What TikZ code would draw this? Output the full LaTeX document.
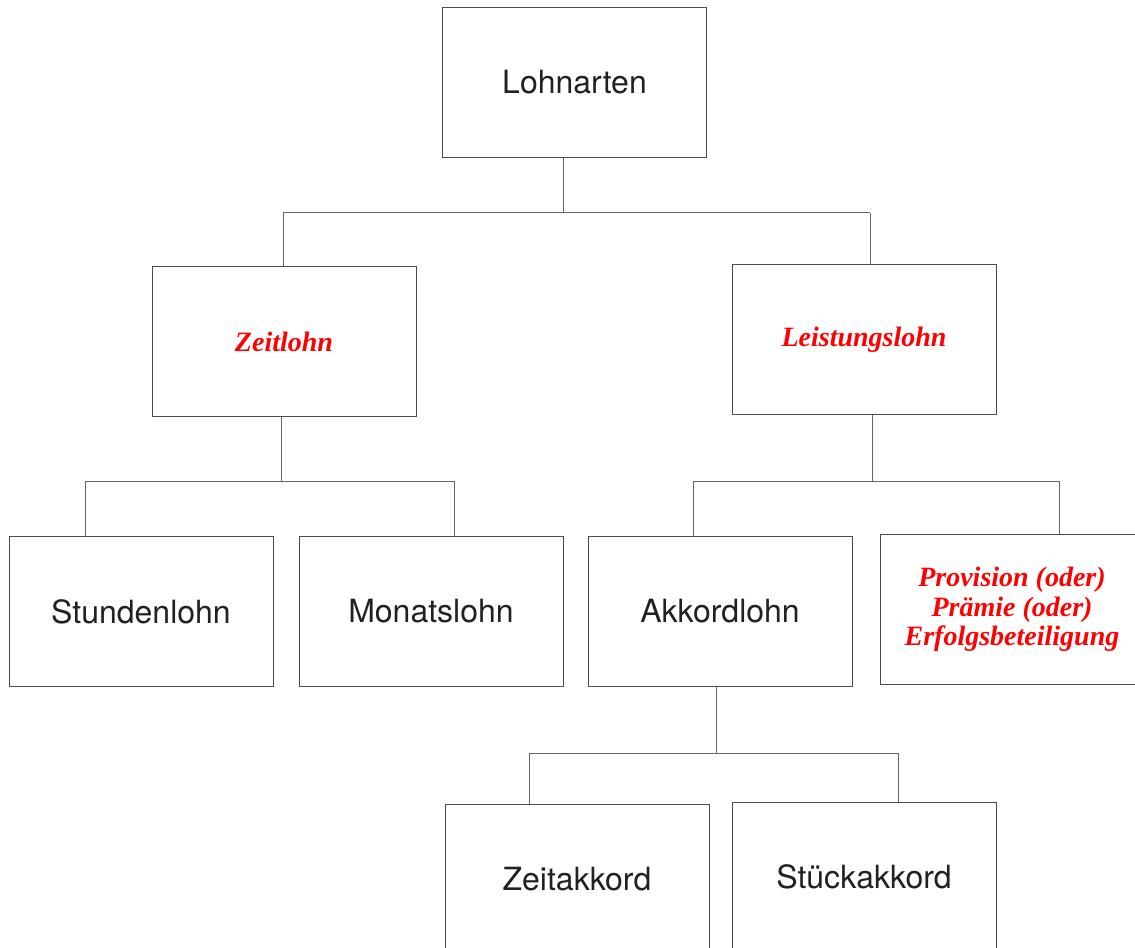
\documentclass[tikz,border=0pt]{standalone}
\usepackage{fontspec}
\setmainfont{Liberation Serif}
\newfontfamily\heros{TeX Gyre Heros}
\definecolor{boxline}{gray}{0.3}
\definecolor{linkline}{gray}{0.4}
\definecolor{textdark}{gray}{0.13}
\begin{document}
\begin{tikzpicture}[x=0.75pt,y=-0.75pt,
  lohnbox/.style={draw=boxline,line width=0.75pt,minimum width=198pt,minimum height=112.5pt,inner sep=0pt,align=center},
  plain/.style={lohnbox,text=textdark,font=\heros\fontsize{24}{28}\selectfont},
  red/.style={lohnbox,text=red,font=\bfseries\itshape\fontsize{21}{22}\selectfont},
  link/.style={draw=linkline,line width=0.75pt}]
\useasboundingbox (0,0) rectangle (1135,948);
\clip (0,0) rectangle (1135,948);
% boxes
\node[plain] (lohn) at (574.5,82.5) {Lohnarten};
\node[red] (zeit) at (284,342) {Zeitlohn};
\node[red] (leist) at (864,340) {Leistungslohn};
\node[plain] (stunden) at (141,611.5) {Stundenlohn};
\node[plain] (monat) at (431,611.5) {Monatslohn};
\node[plain] (akkord) at (720,611) {Akkordlohn};
\node[red] (prov) at (1012,609.5) {Provision (oder)\\Prämie (oder)\\Erfolgsbeteiligung};
\node[plain] (zeitak) at (577,879) {Zeitakkord};
\node[plain] (stueck) at (864,877) {Stückakkord};
% joints
\coordinate (j1) at (563,213);
\coordinate (j1l) at (283,213);
\coordinate (j1r) at (870,213);
\coordinate (j2) at (281,481);
\coordinate (j2l) at (85,481);
\coordinate (j2r) at (454,481);
\coordinate (j3) at (872,481);
\coordinate (j3l) at (693,481);
\coordinate (j3r) at (1059,481);
\coordinate (j4) at (716,753);
\coordinate (j4l) at (529,753);
\coordinate (j4r) at (898,753);
% connectors
\draw[link] (lohn.south -| j1) -- (j1);
\draw[link] (j1l) -- (j1r);
\draw[link] (j1l) -- (j1l |- zeit.north);
\draw[link] (j1r) -- (j1r |- leist.north);
\draw[link] (zeit.south -| j2) -- (j2);
\draw[link] (j2l) -- (j2r);
\draw[link] (j2l) -- (j2l |- stunden.north);
\draw[link] (j2r) -- (j2r |- monat.north);
\draw[link] (leist.south -| j3) -- (j3);
\draw[link] (j3l) -- (j3r);
\draw[link] (j3l) -- (j3l |- akkord.north);
\draw[link] (j3r) -- (j3r |- prov.north);
\draw[link] (akkord.south -| j4) -- (j4);
\draw[link] (j4l) -- (j4r);
\draw[link] (j4l) -- (j4l |- zeitak.north);
\draw[link] (j4r) -- (j4r |- stueck.north);
\end{tikzpicture}
\end{document}
